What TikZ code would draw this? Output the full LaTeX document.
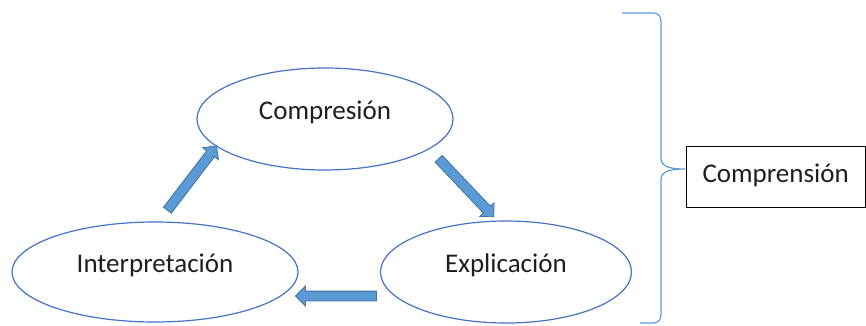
\documentclass[tikz,border=0pt]{standalone}
\usepackage{fontspec}
\setmainfont{Carlito}
\usetikzlibrary{shapes.geometric, shapes.arrows}

\definecolor{ellblue}{HTML}{4472C4}
\definecolor{brblue}{HTML}{5B9BD5}
\definecolor{arrfill}{HTML}{5B9BD5}
\definecolor{arrline}{HTML}{41719C}
\definecolor{txt}{HTML}{1E1E1E}

\tikzset{
	stage/.style={ellipse, draw=ellblue, line width=1.2pt, inner sep=0pt, text=txt,
		text height=9pt, text depth=9pt, font=\fontsize{27}{31}\selectfont},
	flow/.style={single arrow, fill=arrfill, draw=arrline, line width=0.8pt,
		inner sep=4.5pt, minimum width=19pt, single arrow head extend=5pt},
	result/.style={rectangle, draw, line width=1pt, inner sep=0pt, text=txt,
		minimum width=179pt, minimum height=61pt, text width=146pt, align=left,
		text height=16pt, text depth=5pt, font=\fontsize{27}{31}\selectfont}
}

\begin{document}
\begin{tikzpicture}
	\begin{scope}[x=1pt, y=1pt]
		\useasboundingbox (0, 0) rectangle (866, 325);

		\node[stage, minimum width=256pt, minimum height=102pt] (comp) at (325, 206) {Compresión};
		\node[stage, minimum width=286pt, minimum height=100pt] (interp) at (155, 53) {Interpretación};
		\node[stage, minimum width=251pt, minimum height=102pt] (expl) at (506, 53) {Explicación};

		\node[flow, minimum height=81pt, rotate=52.6] (a1) at (190.5, 145) {};
		\node[flow, minimum height=80pt, rotate=-46.5] (a2) at (464.5, 139) {};
		\node[flow, minimum height=81pt, rotate=180] (a3) at (338.5, 29) {};

		\node[result] (total) at (775.5, 148.5) {Comprensión};
		\coordinate (tip) at (685, 156);

		% llave
		\draw[brblue, line width=1.2pt] (622, 312) -- (652, 312)
			.. controls (659, 312) and (661, 309) .. (661, 302) -- (661, 167)
			.. controls (661, 159) and (668, 156) .. (tip)
			.. controls (668, 156) and (661, 153) .. (661, 145) -- (661, 12)
			.. controls (661, 5) and (659, 2) .. (652, 2) -- (640, 2);
	\end{scope}
\end{tikzpicture}
\end{document}
